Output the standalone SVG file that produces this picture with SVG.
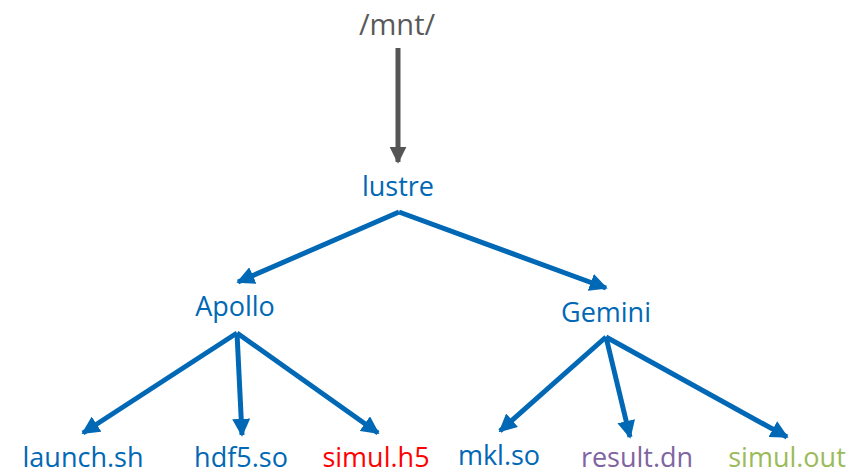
<svg xmlns="http://www.w3.org/2000/svg" width="867" height="474" viewBox="0 0 867 474">
<defs>
<style>
text{font-family:"Open Sans","Liberation Sans",sans-serif;font-size:27px;text-anchor:middle}
.b{fill:#0068B5}
.blue{stroke:#0068B5;stroke-width:5;fill:none}
.gray{stroke:#555555;stroke-width:5;fill:none}
</style>
<marker id="hb" viewBox="0 0 10 10" refX="9" refY="5" markerWidth="3.6" markerHeight="3.6" orient="auto" markerUnits="strokeWidth"><path d="M0,0 L10,5 L0,10 z" fill="#0068B5"/></marker>
<marker id="hg" viewBox="0 0 10 10" refX="9" refY="5" markerWidth="3.4" markerHeight="3.4" orient="auto" markerUnits="strokeWidth"><path d="M0,0 L10,5 L0,10 z" fill="#555555"/></marker>
</defs>
<rect width="867" height="474" fill="#ffffff"/>
<g id="connectors">
<line class="gray" x1="398" y1="48" x2="398" y2="162" marker-end="url(#hg)"/>
<line class="blue" x1="399" y1="212" x2="238" y2="282" marker-end="url(#hb)"/>
<line class="blue" x1="399" y1="212" x2="606" y2="288" marker-end="url(#hb)"/>
<line class="blue" x1="237" y1="333" x2="83" y2="433" marker-end="url(#hb)"/>
<line class="blue" x1="237" y1="333" x2="242" y2="435" marker-end="url(#hb)"/>
<line class="blue" x1="237" y1="333" x2="378" y2="433" marker-end="url(#hb)"/>
<line class="blue" x1="606" y1="337" x2="500" y2="431" marker-end="url(#hb)"/>
<line class="blue" x1="606" y1="337" x2="630" y2="437" marker-end="url(#hb)"/>
<line class="blue" x1="606" y1="337" x2="787" y2="437" marker-end="url(#hb)"/>
</g>
<g id="mnt"><text x="397" y="35" fill="#595959" style="font-size:29px">/mnt/</text></g>
<g id="lustre"><text class="b" x="398" y="196">lustre</text></g>
<g id="apollo"><text class="b" x="235" y="316">Apollo</text></g>
<g id="gemini"><text class="b" x="606" y="322">Gemini</text></g>
<g id="launch"><text class="b" x="83" y="467">launch.sh</text></g>
<g id="hdf5"><text class="b" x="241" y="467">hdf5.so</text></g>
<g id="simulh5"><text x="376" y="467" fill="#FF0000">simul.h5</text></g>
<g id="mkl"><text class="b" x="499" y="465">mkl.so</text></g>
<g id="result"><text x="637" y="467" fill="#8064A2">result.dn</text></g>
<g id="simulout"><text x="787" y="467" fill="#9BBB59">simul.out</text></g>
</svg>
